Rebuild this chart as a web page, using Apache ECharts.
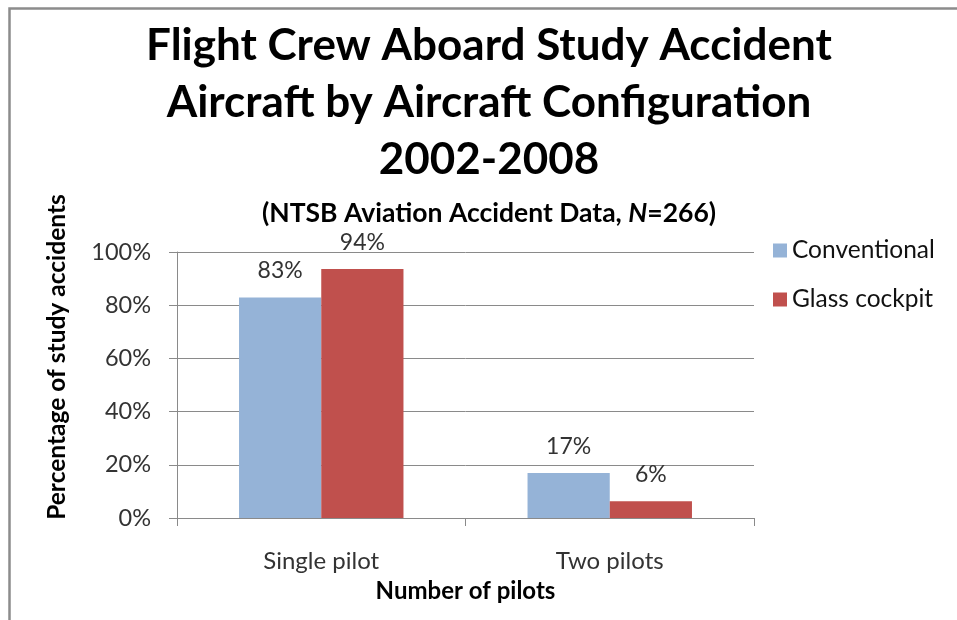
<!DOCTYPE html>
<html>
<head>
<meta charset="utf-8">
<title>Flight Crew Aboard Study Accident Aircraft</title>
<script src="https://cdn.jsdelivr.net/npm/echarts@6/dist/echarts.min.js"></script>
<style>
  html, body { margin: 0; padding: 0; background: #fff; }
  #chart { width: 957px; height: 620px; }
</style>
</head>
<body>
<div id="chart"></div>
<script>
// categories / series
var categories = ['Single pilot', 'Two pilots'];
var seriesNames = ['Conventional', 'Glass cockpit'];
var conventional = [82.9, 16.9];
var glassCockpit = [93.6, 6.3];
var yTicks = [0, 20, 40, 60, 80, 100];

var FONT = 'Lato';
var gridColor = '#8a8a8a';

var chart = echarts.init(document.getElementById('chart'));

var labelStyle = {
  show: true, position: 'top', distance: 15,
  fontFamily: FONT, fontSize: 23, color: '#333',
  formatter: function (p) { return Math.round(p.value) + '%'; }
};

var option = {
  backgroundColor: '#fff',
  color: ['#95b3d7', '#c0504d'],
  animation: false,
  title: [
    {
      // main title, three lines
      text: 'Flight Crew Aboard Study Accident\nAircraft by Aircraft Configuration\n2002-2008',
      left: 484,
      top: 12,
      textAlign: 'center',
      textStyle: {
        fontFamily: FONT,
        fontWeight: 'bold',
        fontSize: 44,
        lineHeight: 57,
        color: '#000'
      }
    },
    {
      text: '{a|(NTSB Aviation Accident Data, }{i|N}{a|=266)}',
      left: 484,
      top: 195,
      textAlign: 'center',
      textStyle: {
        rich: {
          a: { fontFamily: FONT, fontWeight: 'bold', fontSize: 26.5, color: '#000' },
          i: { fontFamily: FONT, fontWeight: 'bold', fontStyle: 'italic', fontSize: 26.5, color: '#000' }
        }
      }
    }
  ],
  legend: {
    orient: 'vertical',
    left: 768,
    top: 233,
    itemWidth: 14,
    itemHeight: 14,
    itemGap: 24,
    icon: 'rect',
    textStyle: { fontFamily: FONT, fontSize: 24.5, color: '#111' },
    data: seriesNames
  },
  grid: { left: 177, right: 203, top: 252, bottom: 102 },
  xAxis: {
    type: 'category',
    data: categories,
    name: 'Number of pilots',
    nameLocation: 'middle',
    nameGap: 61,
    nameTextStyle: { fontFamily: FONT, fontWeight: 'bold', fontSize: 24, color: '#000' },
    axisLine: { lineStyle: { color: gridColor, width: 1 } },
    axisTick: { show: true, length: 8, lineStyle: { color: gridColor } },
    axisLabel: { margin: 31, fontFamily: FONT, fontSize: 24, color: '#333' }
  },
  yAxis: {
    type: 'value',
    min: 0,
    max: 100,
    interval: 20,
    name: 'Percentage of study accidents',
    nameLocation: 'middle',
    nameGap: 107,
    nameTextStyle: {
      fontFamily: FONT, fontWeight: 'bold', fontSize: 24.5, color: '#000',
      padding: [0, 0, 0, 56]
    },
    axisLine: { show: true, lineStyle: { color: gridColor, width: 1 } },
    axisTick: { show: true, length: 8, lineStyle: { color: gridColor } },
    splitLine: { lineStyle: { color: gridColor, width: 1 } },
    axisLabel: {
      margin: 26, fontFamily: FONT, fontSize: 23.5, color: '#333',
      formatter: function (v) { return yTicks.indexOf(v) > -1 ? v + '%' : ''; }
    }
  },
  series: [
    {
      name: seriesNames[0],
      type: 'bar',
      data: conventional,
      barGap: '0%',
      barCategoryGap: '43%',
      label: labelStyle
    },
    {
      name: seriesNames[1],
      type: 'bar',
      data: glassCockpit,
      barGap: '0%',
      barCategoryGap: '43%',
      label: labelStyle
    }
  ],
  graphic: [
    {
      // outer chart frame, cut off at the right and bottom
      type: 'rect',
      shape: { x: 9.5, y: 8.5, width: 1000, height: 700 },
      style: { fill: 'none', stroke: '#8c8c8c', lineWidth: 2.5 },
      silent: true
    }
  ]
};

chart.setOption(option);
</script>
</body>
</html>
